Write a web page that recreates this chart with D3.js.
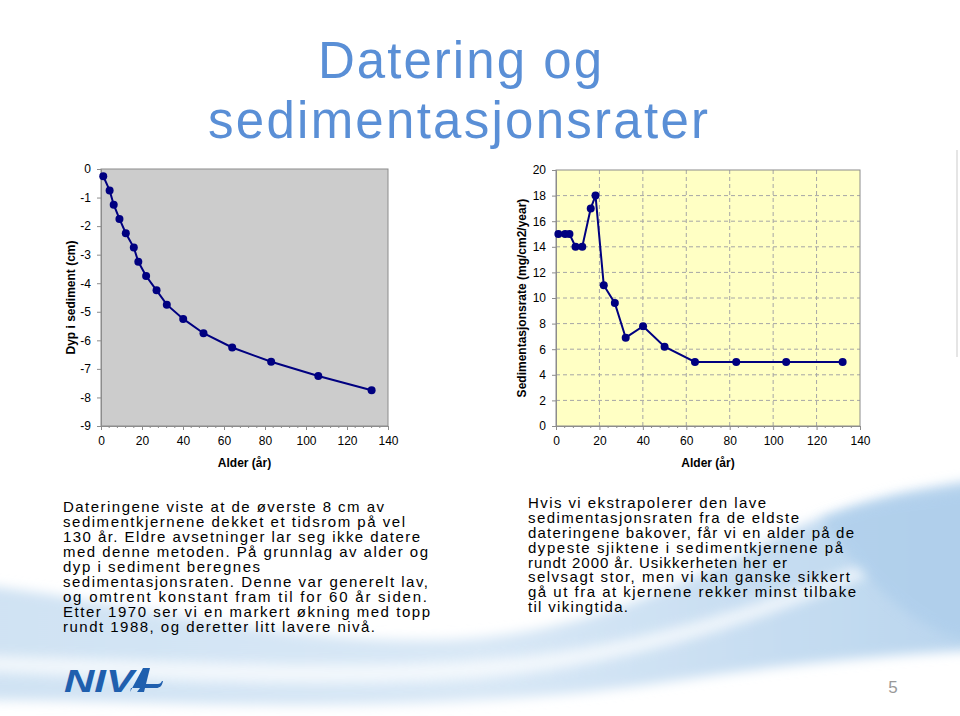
<!DOCTYPE html>
<html><head><meta charset="utf-8">
<script src="https://cdn.jsdelivr.net/npm/d3@7"></script>
<style>html,body{margin:0;padding:0;background:#fff;}svg{display:block;}</style>
</head><body>
<script>
// ---- data ----
const ages = [1.1, 4.2, 6.2, 9, 12.1, 16, 18.2, 22, 27.1, 32.1, 40.1, 50, 64, 83, 106, 132];
const depths = [-0.25, -0.75, -1.25, -1.75, -2.25, -2.75, -3.25, -3.75, -4.25, -4.75, -5.25, -5.75, -6.25, -6.75, -7.25, -7.75];
const rates = [15, 15, 15, 14, 14, 17, 18, 11, 9.6, 6.9, 7.8, 6.2, 5, 5, 5, 5];
const xTicks = [0, 20, 40, 60, 80, 100, 120, 140];
const depthTicks = [0, -1, -2, -3, -4, -5, -6, -7, -8, -9];
const rateTicks = [0, 2, 4, 6, 8, 10, 12, 14, 16, 18, 20];
const titleLines = ["Datering og", "sedimentasjonsrater"];
const leftText = [
 "Dateringene viste at de øverste 8 cm av",
 "sedimentkjernene dekket et tidsrom på vel",
 "130 år. Eldre avsetninger lar seg ikke datere",
 "med denne metoden. På grunnlag av alder og",
 "dyp i sediment beregnes",
 "sedimentasjonsraten. Denne var generelt lav,",
 "og omtrent konstant fram til for 60 år siden.",
 "Etter 1970 ser vi en markert økning med topp",
 "rundt 1988, og deretter litt lavere nivå."
];
const rightText = [
 "Hvis vi ekstrapolerer den lave",
 "sedimentasjonsraten fra de eldste",
 "dateringene bakover, får vi en alder på de",
 "dypeste sjiktene i sedimentkjernene på",
 "rundt 2000 år. Usikkerheten her er",
 "selvsagt stor, men vi kan ganske sikkert",
 "gå ut fra at kjernene rekker minst tilbake",
 "til vikingtida."
];
// measured line widths (layout)
const titleW = [284, 500], titleX = [318, 208], titleY = [77.5, 138];
const leftW = [321, 342, 357, 365, 197, 365, 364, 367, 312];
const rightW = [238, 271, 326, 315, 259, 322, 328, 100];

const W = 960, H = 716;
const FONT = "'Liberation Sans', Arial, Helvetica, sans-serif";
const svg = d3.select("body").append("svg").attr("width", W).attr("height", H)
  .style("font-family", FONT);
const defs = svg.append("defs");

// ---- background swoosh ----
const blur = defs.append("filter").attr("id","blur").attr("x","-20%").attr("y","-50%").attr("width","140%").attr("height","200%");
blur.append("feGaussianBlur").attr("stdDeviation", 6);
const g1 = defs.append("linearGradient").attr("id","wave1").attr("x1","0").attr("y1","0").attr("x2","1").attr("y2","0");
g1.append("stop").attr("offset","0").attr("stop-color","#cfe2f3");
g1.append("stop").attr("offset","0.5").attr("stop-color","#d9e8f6");
g1.append("stop").attr("offset","1").attr("stop-color","#b9d5ee");
const bg = svg.append("g");
bg.append("path").attr("filter","url(#blur)").attr("fill","url(#wave1)")
  .attr("d","M-20,585 C120,600 260,640 420,640 C560,640 650,600 760,545 C840,505 900,490 980,480 L980,650 C880,655 780,665 680,680 C560,698 440,705 300,705 C180,705 80,700 -20,700 Z");
bg.append("path").attr("filter","url(#blur)").attr("fill","#ffffff").attr("opacity",0.7)
  .attr("d","M-20,655 C150,660 300,668 450,662 C600,655 720,620 860,565 L870,575 C740,630 600,672 450,680 C300,688 150,680 -20,672 Z");
bg.append("path").attr("filter","url(#blur)").attr("fill","#a9cbea").attr("opacity",0.6)
  .attr("d","M820,520 C870,500 920,495 980,490 L980,640 C930,640 880,600 820,520 Z");
// faint vertical rule at right edge
svg.append("line").attr("x1",957).attr("x2",957).attr("y1",150).attr("y2",357).attr("stroke","#dcdcdc").attr("stroke-width",1.5);

// ---- title ----
svg.append("g").selectAll("text").data(titleLines).join("text")
  .attr("x",(d,i)=>titleX[i]).attr("y",(d,i)=>titleY[i])
  .attr("textLength",(d,i)=>titleW[i]).attr("lengthAdjust","spacing")
  .attr("font-size",51).attr("fill","#5a8fd6").text(d=>d);

// ---- charts ----
function chart(opt){
  const g = svg.append("g");
  const x = d3.scaleLinear().domain([0,140]).range([opt.x0, opt.x1]);
  const y = d3.scaleLinear().domain(opt.yDomain).range([opt.y1, opt.y0]);
  g.append("rect").attr("x",opt.x0).attr("y",opt.y0).attr("width",opt.x1-opt.x0).attr("height",opt.y1-opt.y0)
    .attr("fill",opt.bg);
  if (opt.grid){
    g.append("g").selectAll("line").data(opt.yTicks.filter(d=>d!==opt.yDomain[0] && d!==opt.yDomain[1])).join("line")
      .attr("x1",opt.x0).attr("x2",opt.x1).attr("y1",d=>y(d)).attr("y2",d=>y(d))
      .attr("stroke","#a6a6a6").attr("stroke-dasharray","4,3");
    g.append("g").selectAll("line").data(xTicks.filter(d=>d>0 && d<140)).join("line")
      .attr("y1",opt.y0).attr("y2",opt.y1).attr("x1",d=>x(d)).attr("x2",d=>x(d))
      .attr("stroke","#a6a6a6").attr("stroke-dasharray","4,3");
  }
  g.append("rect").attr("x",opt.x0).attr("y",opt.y0).attr("width",opt.x1-opt.x0).attr("height",opt.y1-opt.y0)
    .attr("fill","none").attr("stroke","#8c8c8c").attr("stroke-width",1);
  // x axis
  const xa = g.append("g").attr("transform",`translate(0,${opt.y1})`)
    .call(d3.axisBottom(x).tickValues(xTicks).tickSize(4).tickPadding(6).tickFormat(d=>String(d)));
  xa.select(".domain").attr("stroke","#8c8c8c");
  xa.selectAll(".tick line").attr("stroke","#8c8c8c");
  xa.selectAll("text").attr("font-size",12).attr("font-family",FONT).attr("fill","#000");
  const minor = d3.range(0,141,4).filter(d=>d%20!==0);
  g.append("g").selectAll("line").data(minor).join("line")
    .attr("x1",d=>x(d)).attr("x2",d=>x(d)).attr("y1",opt.y1).attr("y2",opt.y1+2).attr("stroke","#8c8c8c");
  // y axis
  const ya = g.append("g").attr("transform",`translate(${opt.x0},0)`)
    .call(d3.axisLeft(y).tickValues(opt.yTicks).tickSize(4).tickPadding(6).tickFormat(d=>String(d)));
  ya.select(".domain").attr("stroke","#8c8c8c");
  ya.selectAll(".tick line").attr("stroke","#8c8c8c");
  ya.selectAll("text").attr("font-size",12).attr("font-family",FONT).attr("fill","#000");
  // titles
  g.append("text").attr("x",(opt.x0+opt.x1)/2).attr("y",opt.y1+41).attr("text-anchor","middle")
    .attr("font-size",12).attr("font-weight","bold").text("Alder (år)");
  g.append("text").attr("transform",`translate(${opt.ylabX},${(opt.y0+opt.y1)/2}) rotate(-90)`)
    .attr("text-anchor","middle").attr("dy","0.35em").attr("font-size",12).attr("font-weight","bold").text(opt.ylab);
  // series
  const pts = ages.map((a,i)=>[a, opt.vals[i]]);
  g.append("path").datum(pts).attr("fill","none").attr("stroke","#000080").attr("stroke-width",2)
    .attr("d", d3.line().x(d=>x(d[0])).y(d=>y(d[1])));
  g.append("g").selectAll("circle").data(pts).join("circle")
    .attr("cx",d=>x(d[0])).attr("cy",d=>y(d[1])).attr("r",4).attr("fill","#000080");
}
chart({x0:101,x1:388,y0:169,y1:426,yDomain:[-9,0],yTicks:depthTicks,vals:depths,bg:"#cccccc",grid:false,ylab:"Dyp i sediment (cm)",ylabX:71});
chart({x0:556,x1:860,y0:170,y1:426,yDomain:[0,20],yTicks:rateTicks,vals:rates,bg:"#ffffc4",grid:true,ylab:"Sedimentasjonsrate (mg/cm2/year)",ylabX:522});

// ---- body text ----
svg.append("g").selectAll("text").data(leftText).join("text")
  .attr("x",63).attr("y",(d,i)=>511.7+15*i)
  .attr("textLength",(d,i)=>leftW[i]).attr("lengthAdjust","spacing")
  .attr("font-size",15).attr("fill","#000").text(d=>d);
svg.append("g").selectAll("text").data(rightText).join("text")
  .attr("x",528).attr("y",(d,i)=>508.3+14.8*i)
  .attr("textLength",(d,i)=>rightW[i]).attr("lengthAdjust","spacing")
  .attr("font-size",15).attr("fill","#000").text(d=>d);

// ---- logo ----
const logo = svg.append("g").attr("fill","#1f5fae");
logo.append("text").attr("x",64).attr("y",692).attr("font-size",32).attr("font-weight","bold")
  .attr("font-style","italic").attr("textLength",70).attr("lengthAdjust","spacingAndGlyphs").text("NIV");
logo.append("path").attr("d","M130,692 L143,668 L150,668 L146,684 L158,684 C160,684 161,683 162,681 L163,681 C162,686 160,688 156,688 L145,688 L144,692 L137,692 L140,688 L131,688 Z M141,684 L144,676 L142,684 Z");
// page number
svg.append("text").attr("x",893).attr("y",693).attr("text-anchor","middle").attr("font-size",17).attr("fill","#999").text("5");
</script>
</body></html>
